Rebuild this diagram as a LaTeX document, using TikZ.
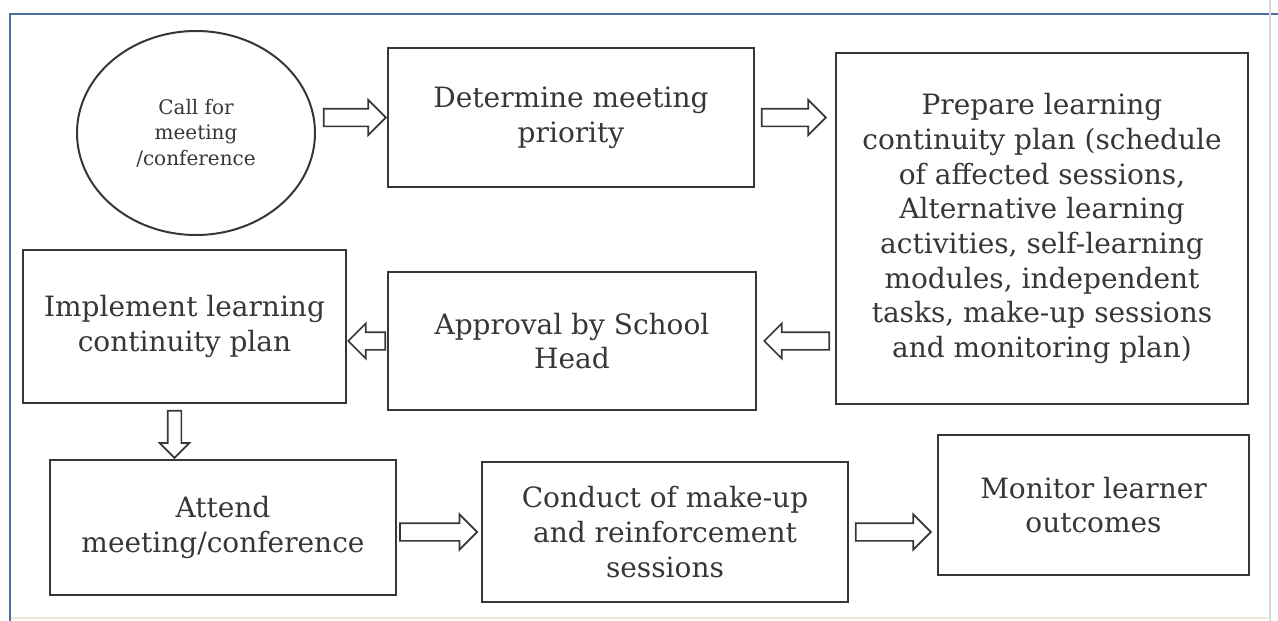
\documentclass[tikz,border=0pt]{standalone}
\usepackage{fontspec}
\setmainfont{DejaVu Serif}
\usepackage{tikz}
\usetikzlibrary{shapes.geometric,shapes.arrows}

\begin{document}
\begin{tikzpicture}[x=0.75pt,y=0.75pt,yscale=-1,xscale=1,
	box/.style={draw={rgb, 255:red, 55; green, 55; blue, 55}, line width=1.5pt, align=center, inner sep=0pt, text={rgb, 255:red, 55; green, 55; blue, 55}, font=\fontsize{21}{26}\selectfont},
	fatarrow/.style={single arrow, draw={rgb, 255:red, 55; green, 55; blue, 55}, line width=1.3pt, inner xsep=0pt, inner ysep=6pt, single arrow head extend=6.5pt, minimum height={#1*0.75pt}}]
	\useasboundingbox (0,0) rectangle (1278,621);
	
	%Straight Lines (frame)
	\draw [color={rgb, 255:red, 74; green, 112; blue, 160 }, line width=1.6pt] (1278,14) -- (10,14) -- (10,621) ;
	\draw [color={rgb, 255:red, 215; green, 215; blue, 215 }, line width=0.8pt] (1270,0) -- (1270,621) ;
	\draw [color={rgb, 255:red, 235; green, 232; blue, 215 }, line width=0.8pt] (11,618) -- (1270,618) ;
	
	%Shape: Ellipse
	\node [box, ellipse, minimum width=178.5pt, minimum height=153pt, font=\fontsize{15}{19}\selectfont] (call) at (196,133) {Call for\\meeting\\/conference};
	%Shape: Rectangle
	\node [box, minimum width=274.5pt, minimum height=104.25pt] (prio) at (571,117.5) {Determine meeting\\priority};
	%Shape: Rectangle
	\node [box, minimum width=309pt, minimum height=263.25pt] (plan) at (1042,228.5) {Prepare learning\\continuity plan (schedule\\of affected sessions,\\Alternative learning\\activities, self-learning\\modules, independent\\tasks, make-up sessions\\and monitoring plan)};
	%Shape: Rectangle
	\node [box, minimum width=276pt, minimum height=103.5pt] (head) at (572,341) {Approval by School\\Head};
	%Shape: Rectangle
	\node [box, minimum width=242.25pt, minimum height=114.75pt] (impl) at (184.5,326.5) {Implement learning\\continuity plan};
	%Shape: Rectangle
	\node [box, minimum width=259.5pt, minimum height=101.25pt] (attend) at (223,527.5) {Attend\\meeting/conference};
	%Shape: Rectangle
	\node [box, minimum width=274.5pt, minimum height=105pt] (makeup) at (665,532) {Conduct of make-up\\and reinforcement\\sessions};
	%Shape: Rectangle
	\node [box, minimum width=233.25pt, minimum height=105pt] (outc) at (1093.5,505) {Monitor learner\\outcomes};
	
	%Shape: Right Arrow
	\node [fatarrow=62, anchor=tip] (a1) at (prio.west) {};
	%Shape: Right Arrow
	\node [fatarrow=64, anchor=tip] (a2) at ([xshift=-6pt]plan.west |- prio.east) {};
	%Shape: Left Arrow
	\node [fatarrow=65, shape border rotate=180, anchor=tip] (a3) at ([xshift=4.5pt]head.east) {};
	%Shape: Left Arrow
	\node [fatarrow=37, shape border rotate=180, anchor=tip] (a4) at (impl.east |- head.west) {};
	%Shape: Down Arrow
	\node [fatarrow=47, shape border rotate=270, anchor=tip, inner xsep=4.5pt, inner ysep=0pt, single arrow head extend=6pt] (a5) at ([xshift=-7.5pt]attend.north -| impl.south) {};
	%Shape: Right Arrow
	\node [fatarrow=77, anchor=tip] (a6) at ([xshift=-2pt]makeup.west) {};
	%Shape: Right Arrow
	\node [fatarrow=75, anchor=tip] (a7) at ([xshift=-3.75pt]outc.west |- makeup.east) {};
	
\end{tikzpicture}
\end{document}
